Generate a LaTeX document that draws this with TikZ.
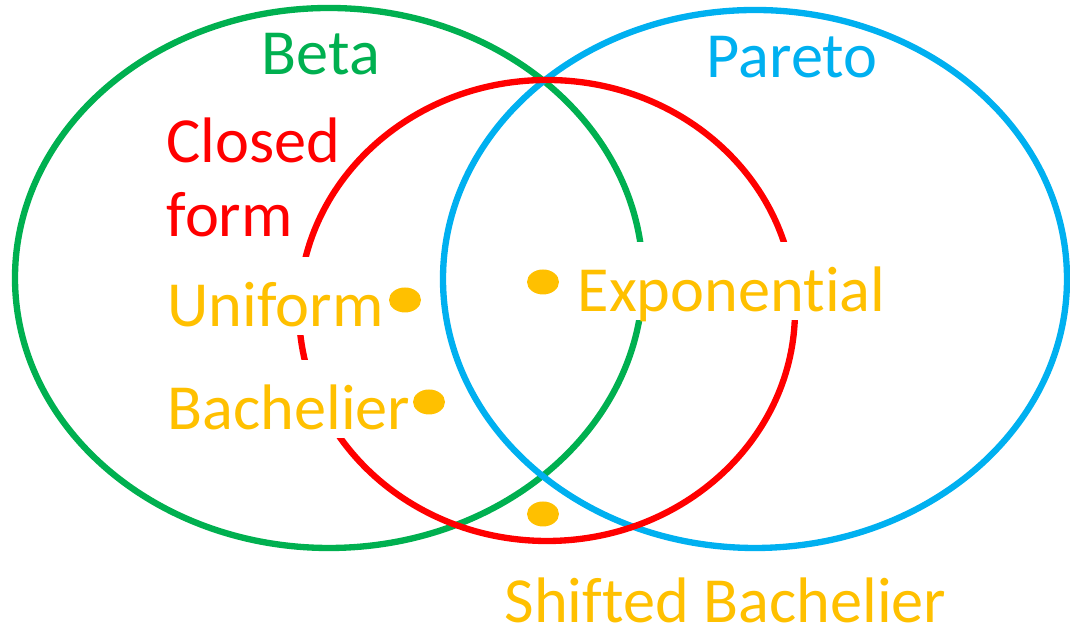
\documentclass[tikz,border=0pt]{standalone}
\usepackage{fontspec}
\setmainfont{Carlito}[Ligatures=NoCommon]
\usepackage{tikz}
\usetikzlibrary{shapes}
\usetikzlibrary{backgrounds}

\definecolor{betagreen}{HTML}{00B050}
\definecolor{paretoblue}{HTML}{00B0F0}
\definecolor{closedred}{HTML}{FF0000}
\definecolor{distyellow}{HTML}{FFC000}

\tikzset{
  lbl/.style={font=\fontsize{18.3}{21.3}\selectfont,inner sep=0pt,anchor=base west},
  masked/.style={lbl,fill=white,text height=0.7cm,text depth=0.08cm,inner xsep=0.1cm},
  ring/.style={line width=1.8pt}
}

\begin{document}
\begin{tikzpicture}[line join=round]
\useasboundingbox (0,0) rectangle (10.7,6.3);
\draw[ring,color=betagreen](3.29,3.52) ellipse (3.14 and 2.70);
\draw[ring,color=paretoblue](7.55,3.51) ellipse (3.12 and 2.69);
\draw[ring,color=closedred](5.47,3.195) ellipse (2.48 and 2.305);

    \node[lbl,text=betagreen] (beta) at (2.61,5.55) {Beta};
    \node[lbl,text=paretoblue] (pareto) at (7.06,5.52) {Pareto};
    \node[lbl,text=closedred,align=left] (closed) at (1.66,3.93) {Closed\\form};
    \node[masked,text=distyellow] (uniform) at (1.57,3.03) {Uniform};
    \node[masked,text=distyellow] (bachelier) at (1.57,2.00) {Bachelier};
    \node[masked,text=distyellow] (expo) at (5.67,3.18) {Exponential};
    \node[lbl,text=distyellow] (shifted) at (5.04,0.07) {Shifted Bachelier};

\fill[distyellow](4.05,3.30) ellipse (0.16 and 0.125);
\fill[distyellow](4.29,2.28) ellipse (0.16 and 0.125);
\fill[distyellow](5.43,3.48) ellipse (0.16 and 0.125);
\fill[distyellow](5.43,1.16) ellipse (0.16 and 0.125);
\end{tikzpicture}
\end{document}
